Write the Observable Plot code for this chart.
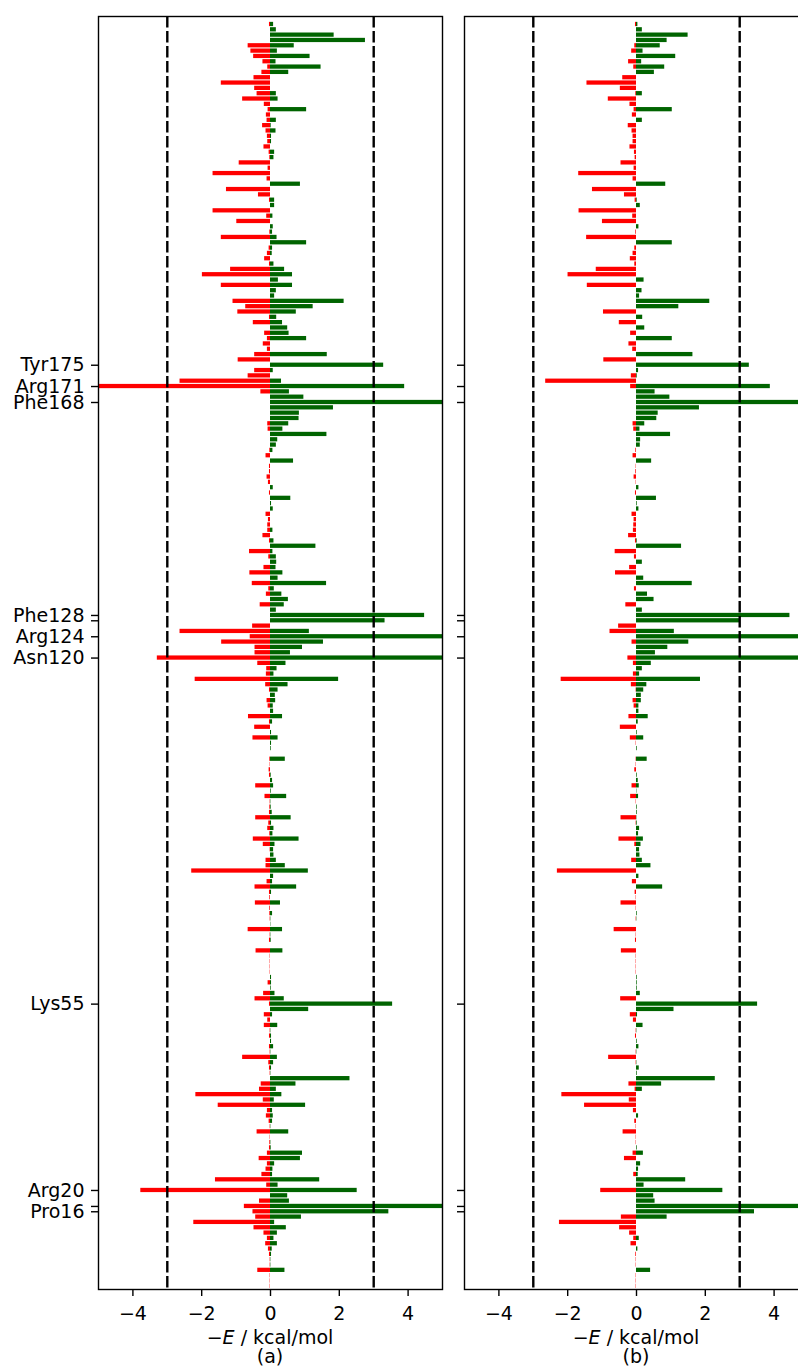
<!DOCTYPE html>
<html><head><meta charset="utf-8">
<script src="https://cdn.jsdelivr.net/npm/d3@7"></script>
<script src="https://cdn.jsdelivr.net/npm/@observablehq/plot@0.6"></script>
<style>
html,body{margin:0;padding:0;background:#fff;overflow:hidden;width:798px;height:1367px}
#wrap{position:relative;width:798px;height:1367px;overflow:hidden}
.panel{position:absolute;top:0}
</style></head><body><div id="wrap"></div>
<script>
// residues listed from top row (239) to bottom row (2)
const residues = d3.range(239, 1, -1);

const aRed = [
-0.03,0,0,0,-0.65,-0.57,-0.49,-0.22,-0.08,-0.25,
-0.48,-1.43,-0.46,-0.39,-0.81,-0.18,-0.07,-0.12,-0.1,-0.23,
-0.13,-0.09,-0.08,-0.19,-0.04,-0.02,-0.91,-0.07,-1.67,-0.1,
0,-1.28,-0.35,-0.03,0,-1.67,-0.11,-0.98,0,-0.02,
-1.43,0,-0.04,-0.09,-0.17,-0.03,-1.16,-1.98,0,-1.43,
0,0,-1.09,-0.72,-0.95,-0.03,-0.5,0,-0.17,-0.09,
-0.21,-0.09,-0.46,-0.94,0,-0.46,-0.65,-2.63,-5.6,-0.28,
0,0,0,0,0,-0.08,-0.07,0,0,0,
-0.02,-0.13,0,-0.03,-0.03,-0.1,-0.06,0,-0.03,0,
0,0,-0.13,-0.06,-0.08,-0.08,-0.22,-0.03,0,-0.61,
-0.05,0,-0.19,-0.6,0,-0.53,-0.05,-0.12,0,-0.3,
0,0,0,-0.52,-2.63,-0.59,-1.42,-0.45,-0.45,-3.29,
-0.37,-0.11,-0.12,-2.19,-0.14,-0.03,0,-0.1,-0.07,0,
-0.64,-0.03,-0.46,0,-0.51,0,0,0,-0.02,-0.01,
-0.04,-0.03,0,-0.43,0,-0.16,-0.01,-0.02,-0.03,-0.43,
-0.05,-0.08,-0.02,-0.5,-0.21,-0.01,0,-0.13,-0.13,-2.29,
0,-0.1,-0.45,-0.03,-0.02,-0.44,-0.02,-0.02,-0.01,0,
-0.65,-0.01,-0.03,0,-0.42,-0.01,-0.01,-0.01,-0.01,0,
-0.07,0,-0.2,-0.45,-0.03,0,-0.18,-0.08,-0.18,-0.01,
-0.03,0,-0.03,-0.01,-0.81,-0.05,-0.03,-0.01,0,-0.27,
-0.32,-2.17,-0.21,-1.52,-0.09,-0.12,-0.04,-0.01,-0.39,-0.01,
-0.02,-0.03,-0.09,-0.33,-0.09,-0.13,-0.25,-1.6,-0.11,-3.77,
0,-0.32,-0.76,-0.51,-0.43,-2.23,-0.48,-0.19,-0.09,-0.14,
-0.06,-0.03,-0.01,-0.01,-0.37,-0.01,-0.01,-0.01
];
const aGreen = [
0.09,0.17,1.85,2.76,0.69,0.2,1.15,0.16,1.47,0.53,
0,0,0,0.17,0.22,0,1.05,0,0.17,0.02,
0.16,0.03,0.03,0,0.12,0.1,0,0,0,0,
0.87,0,0,0.12,0.12,0,0.07,0,0.08,0.06,
0.19,1.05,0.06,0.05,0,0.1,0.41,0.64,0.23,0.64,
0.17,0.12,2.14,1.24,0.75,0.18,0.35,0.5,0.54,1.05,
0,0,1.65,0,3.29,0.08,0,0.32,3.9,0.55,
0.97,5.6,1.83,0.84,0.83,0.53,0.36,1.64,0.21,0.17,
0.07,0,0.67,0,0,0,0,0.08,0,0.59,
0.03,0.08,0,0,0,0.07,0,0.1,1.32,0.07,
0.17,0.18,0.16,0.36,0.22,1.63,0.11,0.33,0.52,0.4,
0.17,4.48,3.33,0,1.13,5.6,1.54,0.93,0.58,5.6,
0.45,0.19,0.1,1.98,0.51,0.22,0.14,0.15,0.08,0.09,
0.35,0.06,0,0.03,0.22,0.03,0.02,0,0.43,0,
0,0.02,0.06,0.09,0.02,0.47,0.01,0.02,0.05,0.6,
0.03,0.1,0.07,0.83,0.13,0.09,0.1,0.17,0.43,1.1,
0.09,0.06,0.76,0.03,0,0.29,0,0.06,0.01,0.01,
0.35,0.01,0.02,0,0.36,0,0,0,0,0.03,
0.03,0.02,0.13,0.4,3.55,1.11,0.06,0,0.21,0.01,
0.03,0.03,0.09,0.01,0.2,0.09,0.03,0.01,2.31,0.74,
0.17,0.33,0.11,1.02,0.06,0.08,0.06,0.01,0.53,0,
0.01,0.02,0.93,0.87,0.12,0.07,0.06,1.43,0.22,2.52,
0.5,0.55,5.6,3.44,0.9,0.12,0.46,0.2,0.1,0.2,
0.05,0.03,0.01,0.01,0.42,0,0,0
];
const bRed = [
-0.03,0,0,0,-0.05,-0.14,0,-0.23,-0.08,0,
-0.4,-1.44,-0.47,-0.02,-0.82,-0.19,-0.07,-0.12,0,-0.24,
-0.13,-0.1,-0.1,-0.19,-0.06,-0.04,-0.45,-0.07,-1.68,-0.1,
0,-1.28,-0.35,-0.04,0,-1.67,-0.11,-0.99,0,-0.02,
-1.45,0,-0.05,-0.1,-0.18,-0.05,-1.17,-1.99,0,-1.43,
0,0,0,0,-0.96,0,-0.5,0,-0.17,0,
-0.22,-0.11,0,-0.95,0,0,-0.15,-2.64,-0.17,0,
0,0,0,0,0,-0.1,-0.08,0,0,0,
-0.02,-0.1,0,-0.01,-0.02,-0.07,-0.01,0,-0.03,0,
0,0,-0.13,-0.07,-0.08,-0.09,-0.23,-0.03,0,-0.62,
-0.06,0,-0.2,-0.61,0,0,-0.06,0,0,-0.31,
0,0,0,-0.52,-0.77,0,-0.13,0,0,-0.25,
-0.09,0,-0.09,-2.19,-0.15,-0.01,0,-0.1,-0.07,0,
-0.22,0,-0.47,0,-0.18,-0.01,0,0,-0.01,-0.01,
-0.05,0,0,-0.13,0,-0.17,-0.01,0,0,-0.45,
-0.01,0,0,-0.51,-0.05,0,0,-0.14,0,-2.3,
0,-0.12,0,-0.04,-0.01,-0.45,-0.01,0,-0.01,0,
-0.65,-0.01,-0.03,0,-0.44,-0.01,-0.01,-0.01,-0.01,0,
0,0,0,-0.46,0,0,-0.18,-0.09,0,-0.01,
-0.03,0,0,-0.01,-0.81,-0.01,0,0,0,-0.22,
-0.04,-2.17,-0.21,-1.51,-0.09,0,-0.05,-0.01,-0.39,-0.01,
-0.01,0,-0.1,-0.35,0,0,-0.08,0,0,-1.04,
0,0,0,0,-0.44,-2.24,-0.49,-0.2,-0.08,-0.16,
0,-0.02,-0.01,-0.01,0,-0.01,-0.01,-0.01
];
const bGreen = [
0.04,0.17,1.5,0.89,0.69,0.19,1.14,0.15,0.82,0.52,
0,0,0,0.17,0,0,1.04,0,0.17,0,
0,0,0,0,0,0,0,0,0,0,
0.85,0,0,0.02,0.11,0,0,0,0.07,0,
0,1.04,0,0,0,0,0,0,0.22,0,
0.16,0.09,2.13,1.23,0,0.18,0,0.24,0,1.04,
0,0,1.64,0,3.28,0.06,0.02,0,3.89,0.54,
0.97,5.6,1.83,0.63,0.59,0.24,0.1,0.99,0.12,0.11,
0,0,0.44,0,0,0,0,0.07,0,0.58,
0.02,0.07,0,0,0,0,0,0.02,1.31,0,
0,0.17,0,0,0.21,1.62,0,0.32,0.51,0,
0.17,4.46,3.02,0,1.1,5.6,1.52,0.91,0.55,5.6,
0.43,0.17,0.09,1.86,0.3,0.21,0.14,0.14,0.07,0.07,
0.34,0.05,0,0.02,0.21,0,0.02,0,0.31,0,
0,0.02,0.05,0.08,0.01,0.06,0,0.02,0.02,0.01,
0.02,0.09,0.06,0.2,0.13,0.09,0.1,0.17,0.42,0,
0.07,0,0.76,0,0,0,0,0.02,0.01,0,
0,0,0,0,0,0,0,0,0,0.02,
0.02,0.02,0.11,0,3.52,1.09,0.03,0,0.19,0.01,
0,0.02,0.07,0.01,0,0.01,0.08,0.02,2.29,0.73,
0.17,0,0,0,0,0.06,0,0,0,0,
0,0.02,0.2,0,0.12,0.06,0.05,1.43,0.22,2.51,
0.5,0.54,5.6,3.43,0.89,0,0,0,0.08,0,
0.04,0,0,0,0.41,0,0,0
];

const tickResidues = [175, 171, 168, 128, 127, 124, 120, 55, 20, 17, 16];
const tickLabels = ["Tyr175", "Arg171", "Phe168", "Phe128", "", "Arg124", "Asn120", "Lys55", "Arg20", "", "Pro16"];
const thresholds = [-3, 3];
const xTicks = [-4, -2, 0, 2, 4];
const panelTags = ["(a)", "(b)"];

const FONT = "DejaVu Sans";
const FS = 19;

function makePanel(red, green, {tag, showLabels, marginLeft, width, left}) {
  const rows = residues.map((r, i) => ({r, red: red[i], green: green[i]}));
  const labelOf = new Map(tickResidues.map((r, i) => [r, tickLabels[i]]));
  const frameW = 344;
  const p = Plot.plot({
    width, height: 1367,
    marginTop: 16, marginBottom: 78,
    marginLeft, marginRight: width - marginLeft - frameW,
    style: {fontFamily: FONT, fontSize: FS + "px", background: "transparent", color: "#000", overflow: "visible"},
    x: {domain: [-5, 5]},
    y: {domain: [1.4, 240.5]},
    marks: [
      Plot.rect(rows, {x1: () => 0, x2: "red", y1: d => d.r - 0.4, y2: d => d.r + 0.4, fill: "#ff0000", clip: true}),
      Plot.rect(rows, {x1: () => 0, x2: "green", y1: d => d.r - 0.4, y2: d => d.r + 0.4, fill: "#006400", clip: true}),
      Plot.ruleX(thresholds, {stroke: "#000", strokeWidth: 2.4, strokeDasharray: "11.5,3.5"}),
      Plot.frame({stroke: "#000", strokeWidth: 1.4}),
      Plot.axisX({ticks: xTicks, tickSize: 7, tickPadding: 10, label: null, strokeWidth: 1.4, fontSize: FS}),
      Plot.axisY({ticks: tickResidues, tickFormat: d => showLabels ? labelOf.get(d) : "", tickSize: 7, tickPadding: 7, label: null, strokeWidth: 1.4, fontSize: FS})
    ]
  });
  const svg = d3.select(p);
  const cx = p.scale("x").apply(0);
  const t = svg.append("text").attr("x", cx).attr("y", 1344).attr("text-anchor", "middle")
    .attr("font-family", FONT).attr("font-size", FS).attr("fill", "#000");
  t.append("tspan").text("\u2212");
  t.append("tspan").attr("font-style", "italic").text("E");
  t.append("tspan").text(" / kcal/mol");
  svg.append("text").attr("x", cx).attr("y", 1363).attr("text-anchor", "middle")
    .attr("font-family", FONT).attr("font-size", FS).attr("fill", "#000").text(tag);
  p.classList.add("panel");
  p.style.left = left + "px";
  return p;
}

const wrap = document.getElementById("wrap");
wrap.appendChild(makePanel(aRed, aGreen, {tag: panelTags[0], showLabels: true, marginLeft: 98, width: 450, left: 0}));
wrap.appendChild(makePanel(bRed, bGreen, {tag: panelTags[1], showLabels: false, marginLeft: 14, width: 368, left: 450}));
</script>
</body></html>
